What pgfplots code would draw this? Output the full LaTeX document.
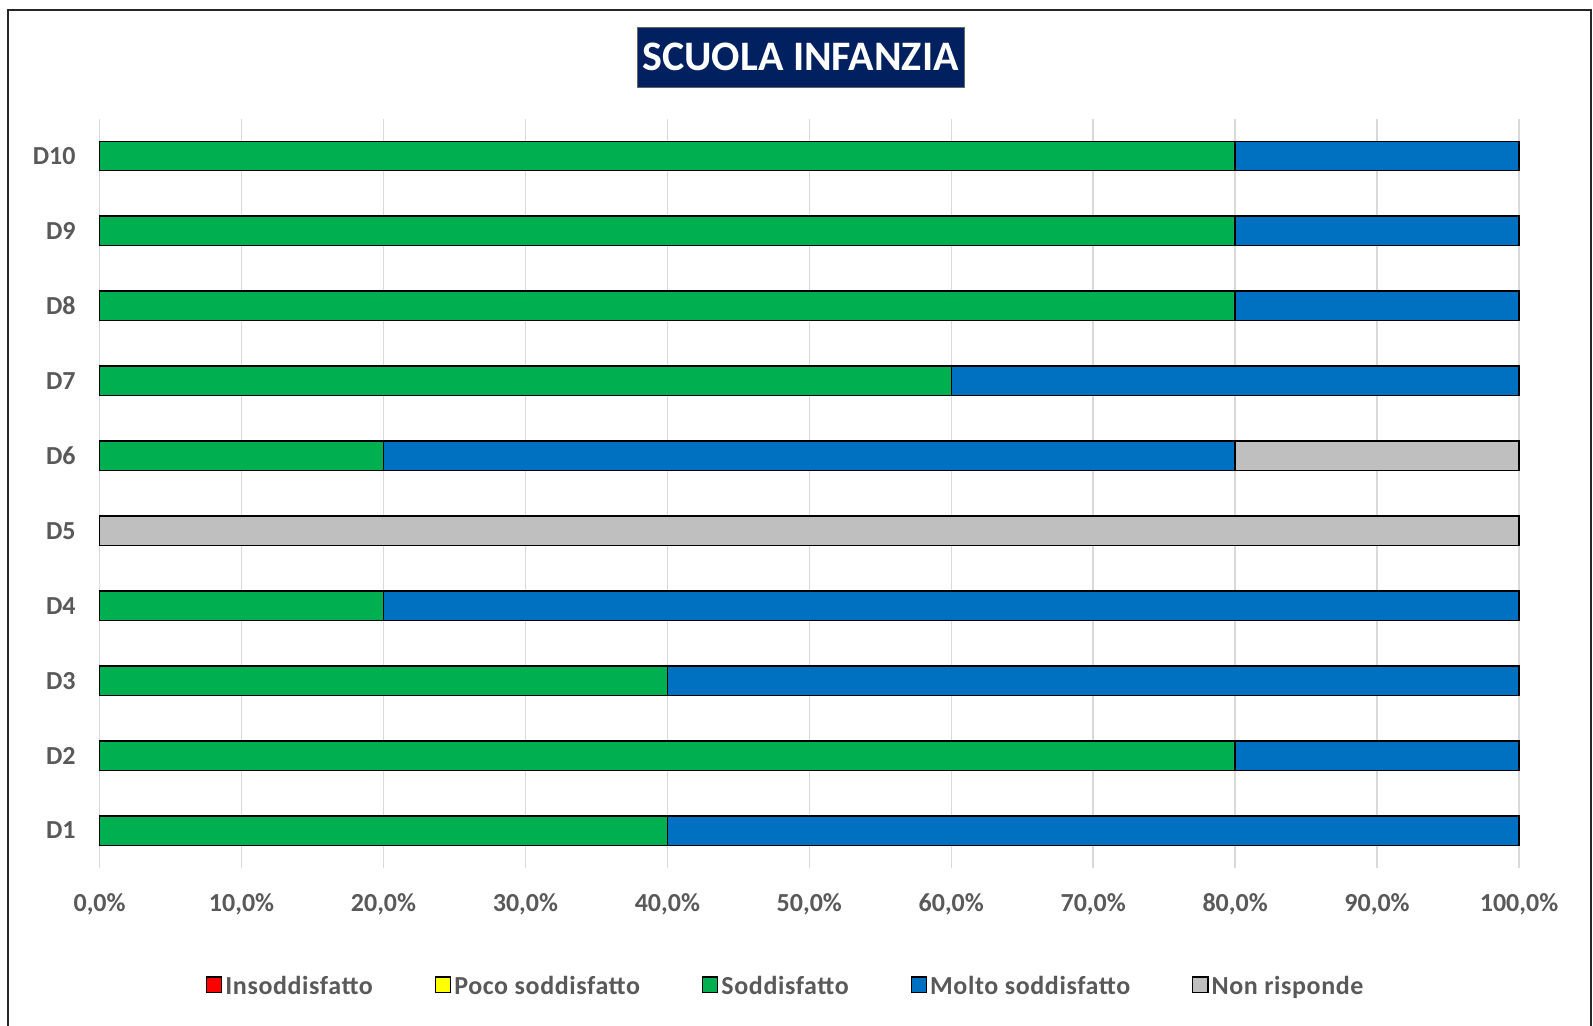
\documentclass[border=0pt]{standalone}
\usepackage{fontspec}
\setmainfont{Carlito}
\newfontfamily\legfont[LetterSpace=2.3]{Carlito}
\usepackage{pgfplots}
\usepackage{pgfplotstable}
\pgfplotsset{compat=1.18}
\definecolor{navy}{HTML}{002060}
\definecolor{cred}{HTML}{FF0000}
\definecolor{cyellow}{HTML}{FFFF00}
\definecolor{cgreen}{HTML}{00B050}
\definecolor{cblue}{HTML}{0070C0}
\definecolor{cgray}{HTML}{BFBFBF}
\definecolor{txt}{HTML}{595959}
\definecolor{gridc}{HTML}{D9D9D9}
\pgfplotstableread{
y ins poco sodd molto nonr
1 0 0 40 60 0
2 0 0 80 20 0
3 0 0 40 60 0
4 0 0 20 80 0
5 0 0 0 0 100
6 0 0 20 60 20
7 0 0 60 40 0
8 0 0 80 20 0
9 0 0 80 20 0
10 0 0 80 20 0
}\datatable
\begin{document}
\begin{tikzpicture}
\useasboundingbox (0pt,0pt) rectangle (796.5pt,-512.5pt);
\draw[line width=1pt, black!85] (4pt,-520pt) -- (4pt,-5pt) -- (795.5pt,-5pt) -- (795.5pt,-520pt);
\node[fill=navy, draw=black!60, line width=0.5pt, minimum width=163.5pt, minimum height=30pt, inner sep=0pt,
  text=white, font=\bfseries\fontsize{21}{21}\selectfont] at (400.25pt,-28.5pt) {SCUOLA INFANZIA};
\begin{axis}[
  at={(49.8pt,-434pt)}, anchor=south west,
  scale only axis, width=709.7pt, height=374.75pt,
  xbar stacked, bar width=14.7pt,
  xmin=0, xmax=100, ymin=0.5, ymax=10.5,
  clip=false,
  xtick={0,10,...,100}, ytick={1,...,10},
  yticklabels={D1,D2,D3,D4,D5,D6,D7,D8,D9,D10},
  xmajorgrids, major grid style={gridc, line width=0.75pt},
  axis line style={draw=none}, tick style={draw=none}, major tick length=0pt,
  /pgf/number format/assume math mode=true,
  xticklabel={\pgfmathprintnumber[fixed,fixed zerofill,precision=1,use comma]{\tick}\%},
  ticklabel style={font=\bfseries\fontsize{13}{13}\selectfont, text=txt},
  xticklabel style={anchor=base, inner sep=0pt, yshift=-21.95pt},
  yticklabel style={anchor=east, inner sep=0pt, xshift=-11.8pt},
  every axis plot/.append style={draw=black, line width=0.75pt},
  legend columns=5,
  legend image code/.code={\draw[#1, draw=black, line width=0.6pt] (0pt,-2.8pt) rectangle (7.6pt,4.8pt);},
  legend style={at={(0.075,-0.1582)}, anchor=west, draw=none, fill=none, inner sep=0pt, outer sep=0pt,
    font=\legfont\bfseries\fontsize{13}{13}\selectfont, text=txt,
    nodes={inner sep=0pt},
    /tikz/every odd column/.append style={column sep=1.5pt},
    /tikz/every even column/.append style={column sep=31pt}},
]
\addplot[fill=cred] table[x=ins,y=y]{\datatable};
\addplot[fill=cyellow] table[x=poco,y=y]{\datatable};
\addplot[fill=cgreen] table[x=sodd,y=y]{\datatable};
\addplot[fill=cblue] table[x=molto,y=y]{\datatable};
\addplot[fill=cgray] table[x=nonr,y=y]{\datatable};
\legend{Insoddisfatto,Poco soddisfatto,Soddisfatto,Molto soddisfatto,Non risponde}
\end{axis}
\end{tikzpicture}
\end{document}
